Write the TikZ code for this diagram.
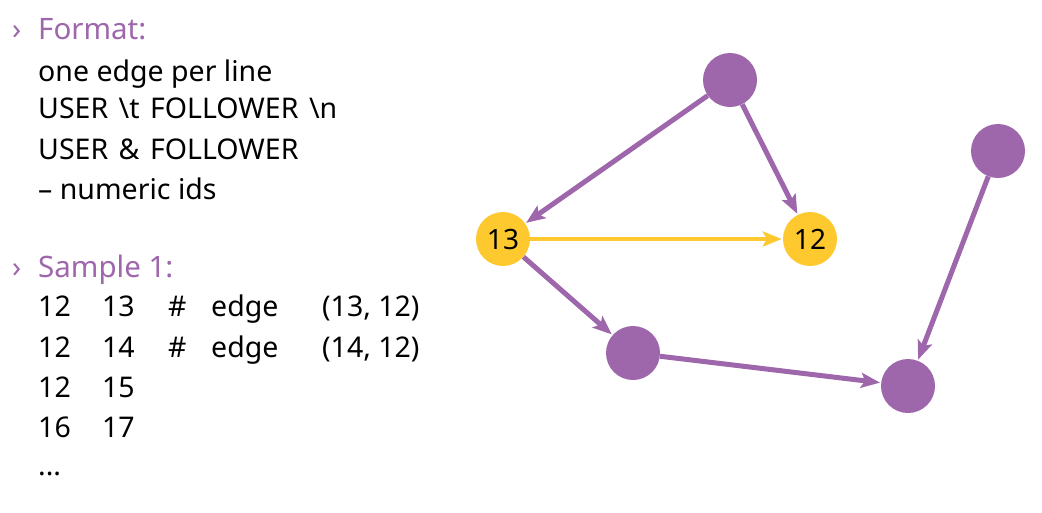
\documentclass[tikz,border=0pt]{standalone}
\usepackage{fontspec}
\setmainfont{Noto Sans}
\usepackage{tikz}
\usetikzlibrary{arrows.meta, positioning}

\definecolor{GraphPurple}{RGB}{158,102,171}
\definecolor{GraphYellow}{RGB}{253,201,47}

\newcommand{\col}[2]{\makebox[#1pt][l]{#2}}
\newcommand{\widesp}{\spaceskip=10.5pt\relax}

\begin{document}
\begin{tikzpicture}[x=1pt,y=-1pt,>={Stealth[length=19pt,width=15pt,inset=4pt]},
  vert/.style={circle,fill=GraphPurple,minimum size=54pt,inner sep=0pt},
  hot/.style={circle,fill=GraphYellow,minimum size=54pt,inner sep=0pt,font=\fontsize{28}{32}\selectfont},
  txt/.style={anchor=base west,inner sep=0pt,font=\fontsize{28.5}{34}\selectfont},
  head/.style={anchor=base west,inner sep=0pt,text=GraphPurple,font=\fontsize{29.5}{34}\selectfont},
  pedge/.style={->,draw=GraphPurple,line width=5pt,shorten >=1pt},
  yedge/.style={->,draw=GraphYellow,line width=4pt,shorten >=1pt}]

\useasboundingbox (0,0) rectangle (1042,512);

% format block
\node[head] (B1) at (12,39) {›};
\node[head] (F0) at (38,39) {Format:};
\node[txt]  (F1) at (38,81) {one edge per line};
\node[txt]  (F2) at (38,118) {\widesp USER \textbackslash t FOLLOWER \textbackslash n};
\node[txt]  (F3) at (38,159) {\widesp USER \& FOLLOWER};
\node[txt]  (F4) at (38,199) {– numeric ids};

% sample block
\node[head] (B2) at (12,277) {›};
\node[head] (S0) at (38,277) {Sample 1:};
\node[txt]  (S1) at (38,316) {\col{64}{12}\col{66}{13}\col{43}{\#}\col{111}{edge}(13, 12)};
\node[txt]  (S2) at (38,357) {\col{64}{12}\col{66}{14}\col{43}{\#}\col{111}{edge}(14, 12)};
\node[txt]  (S3) at (38,397) {\col{64}{12}15};
\node[txt]  (S4) at (38,437) {\col{64}{16}17};
\node[txt]  (S5) at (38,475) {...};

% graph
\node[vert] (T)   at (730,80)  {};
\node[hot]  (V13) at (503,239) {13};
\node[hot]  (V12) at (810,239) {12};
\node[vert] (R)   at (998,151) {};
\node[vert] (M)   at (633,353) {};
\node[vert] (Q)   at (908,386) {};

\path (T)   edge[pedge] (V13)
      (T)   edge[pedge] (V12)
      (V13) edge[pedge] (M)
      (M)   edge[pedge] (Q)
      (R)   edge[pedge] (Q);

\path (V13) edge[yedge] (V12);

\end{tikzpicture}
\end{document}
